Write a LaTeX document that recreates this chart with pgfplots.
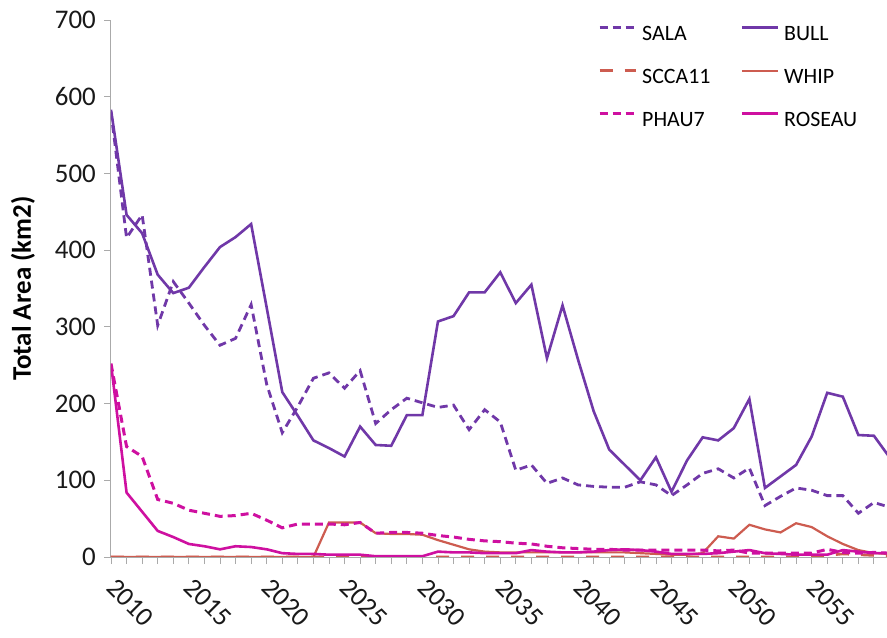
\documentclass[border=0pt]{standalone}
\usepackage{pgfplots}
\pgfplotsset{compat=1.18}
\usepackage{pgfplotstable}
\usepackage{fontspec}
\setmainfont{Carlito}
\definecolor{cpurple}{RGB}{112,56,168}
\definecolor{csalmon}{RGB}{205,92,80}
\definecolor{cmagenta}{RGB}{206,16,160}
\definecolor{caxis}{RGB}{170,170,170}

\pgfplotstableread{
year sala bull scca whip phau roseau
2010 580 583 0 0 252 252
2011 416 446 0 0 144 84
2012 446 422 0 0 131 59
2013 302 368 0 0 75 34
2014 359 344 0 0 70 26
2015 331 351 0 0 61 17
2016 302 378 0 0 57 14
2017 276 404 0 0 53 10
2018 285 417 0 0 54 14
2019 329 434 0 0 57 13
2020 225 325 0 0 48 10
2021 162 215 0 0 38 5
2022 196 184 0 0 43 4
2023 233 152 0 0 43 4
2024 240 142 0 45 43 3
2025 220 131 0 45 42 3
2026 243 170 0 45 45 3
2027 174 146 0 31 31 1
2028 192 145 0 30 32 1
2029 207 185 0 30 32 1
2030 201 185 0 29 31 1
2031 195 307 0 22 28 7
2032 198 314 0 16 26 6
2033 166 345 0 10 23 6
2034 192 345 0 7 21 5
2035 176 371 0 6 20 5
2036 113 331 0 6 18 5
2037 120 355 0 6 17 9
2038 96 259 0 6 14 7
2039 103 328 0 6 12 6
2040 94 257 0 6 11 6
2041 92 190 0 6 10 7
2042 91 140 0 6 10 9
2043 91 120 0 6 9 10
2044 98 100 0 5 9 9
2045 94 130 0 4 9 7
2046 80 85 0 3 9 4
2047 94 126 0 3 9 4
2048 109 156 0 5 9 4
2049 115 152 0 27 8 5
2050 103 168 0 24 9 7
2051 116 206 0 42 5 9
2052 67 90 0 36 5 5
2053 79 105 0 32 5 4
2054 90 120 0 44 5 3
2055 87 157 0 39 5 3
2056 80 214 2 27 10 3
2057 80 209 4 17 6 9
2058 57 159 3 9 5 7
2059 71 158 2 5 6 5
2060 65 130 2 4 5 5
}\data

\begin{document}
\begin{tikzpicture}
\begin{axis}[
  scale only axis, width=778.5bp, height=537bp,
  xmin=2010, xmax=2060, ymin=0, ymax=700,
  axis lines=left,
  axis line style={-, draw=caxis, line width=1bp},
  xtick={2010,2015,...,2055},
  minor xtick={2011,...,2059},
  ytick={0,100,...,700},
  tick align=outside,
  major tick length=7bp, minor tick length=7bp,
  every tick/.style={draw=caxis, line width=0.8bp},
  minor tick style={draw=caxis, line width=0.8bp},
  major tick style={draw=caxis, line width=0.8bp},
  /pgf/number format/assume math mode=true,
  /pgf/number format/1000 sep={},
  ticklabel style={font=\fontsize{27}{32}\selectfont, text=black!90},
  xticklabel style={yshift=-19bp, rotate=-45, anchor=west, inner sep=0pt},
  yticklabel style={inner sep=0pt, xshift=-8bp},
  ylabel={Total Area (km2)},
  every axis y label/.style={at={(axis description cs:0,0.5)}, xshift=-88bp, rotate=90, anchor=center, font=\bfseries\fontsize{27}{32}\selectfont},
  legend columns=2,
  legend cell align=left,
  legend style={at={(rel axis cs:0.6256,0.9926)}, anchor=north west, draw=none, fill=none, inner sep=0pt,
    font=\fontsize{22}{26}\selectfont, row sep=22bp,
    nodes={inner sep=0pt, text height=16bp, text depth=5bp},
    /tikz/every odd column/.append style={column sep=5bp},
    /tikz/every even column/.append style={column sep=30bp}},
  legend image code/.code={\draw[#1] (0bp,7bp) -- (36bp,7bp);},
]
\addplot[cpurple, line width=2.8bp, dash pattern=on 8bp off 5bp] table[x=year,y=sala] {\data};
\addlegendentry{SALA}
\addplot[cpurple, line width=2.6bp] table[x=year,y=bull] {\data};
\addlegendentry{BULL}
\addplot[csalmon, line width=2.6bp, dash pattern=on 13bp off 12bp] table[x=year,y=scca] {\data};
\addlegendentry{SCCA11}
\addplot[csalmon, line width=2.2bp] table[x=year,y=whip] {\data};
\addlegendentry{WHIP}
\addplot[cmagenta, line width=3bp, dash pattern=on 8bp off 5bp] table[x=year,y=phau] {\data};
\addlegendentry{PHAU7}
\addplot[cmagenta, line width=2.6bp] table[x=year,y=roseau] {\data};
\addlegendentry{ROSEAU}
\end{axis}
\pgfresetboundingbox
\path (-111bp,-81bp) rectangle (776bp,557bp);
\end{tikzpicture}
\end{document}
